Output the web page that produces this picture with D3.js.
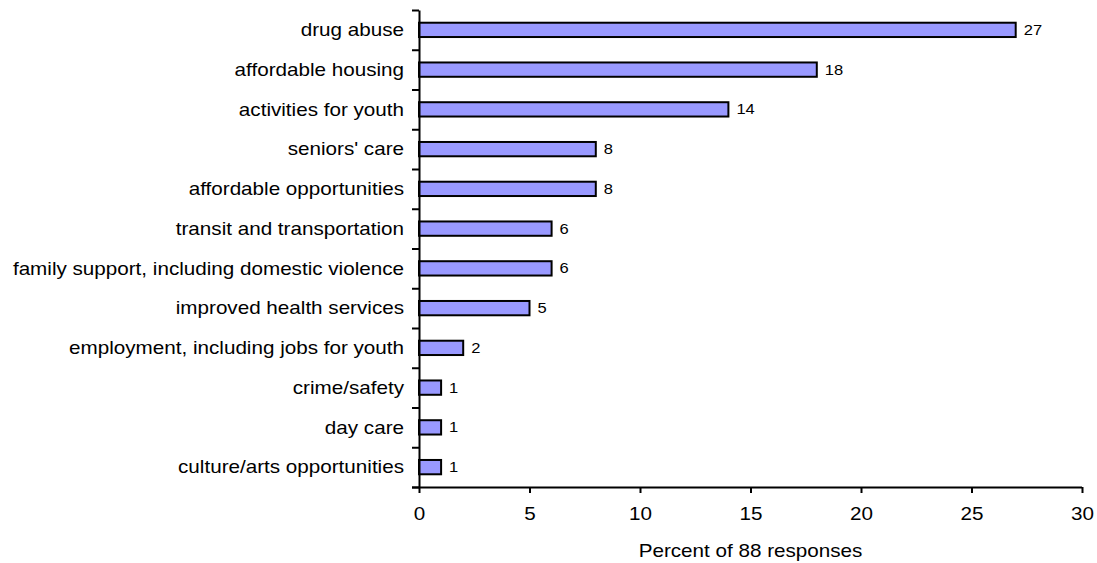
<!DOCTYPE html>
<html>
<head>
<meta charset="utf-8">
<script src="https://cdn.jsdelivr.net/npm/d3@7"></script>
<style>
  html, body { margin: 0; padding: 0; background: #fff; }
  svg { display: block; }
  text { font-family: "Liberation Sans", Arial, sans-serif; fill: #000; }
</style>
</head>
<body>
<svg id="chart" width="1097" height="563"></svg>
<script>
// Community priorities, percent of 88 responses
const categories = [
  "drug abuse",
  "affordable housing",
  "activities for youth",
  "seniors' care",
  "affordable opportunities",
  "transit and transportation",
  "family support, including domestic violence",
  "improved health services",
  "employment, including jobs for youth",
  "crime/safety",
  "day care",
  "culture/arts opportunities"
];
const percents = [27, 18, 14, 8, 8, 6, 6, 5, 2, 1, 1, 1];
const xTicks = [0, 5, 10, 15, 20, 25, 30];
const xTitle = "Percent of 88 responses";

const svg = d3.select("#chart");
const plotLeft = 419, plotRight = 1082, plotTop = 10, plotBottom = 487;
const stretch = 1.18; // wide letterforms
const fontSize = 17.5;

const x = d3.scaleLinear().domain([0, 30]).range([plotLeft, plotRight]);
const y = d3.scaleBand().domain(categories).range([plotTop, plotBottom])
  .paddingInner(0.64).paddingOuter(0.32);
// band boundaries for the y-axis tick marks
const yEdges = d3.scaleLinear().domain([0, categories.length]).range([plotTop, plotBottom]);

// bars
svg.append("g").selectAll("rect")
  .data(categories)
  .join("rect")
  .attr("x", x(0))
  .attr("y", d => y(d))
  .attr("width", (d, i) => x(percents[i]) - x(0))
  .attr("height", y.bandwidth())
  .attr("fill", "#9999ff")
  .attr("stroke", "#000")
  .attr("stroke-width", 2);

// value labels
svg.append("g").selectAll("text")
  .data(categories)
  .join("text")
  .attr("transform", (d, i) => `translate(${x(percents[i]) + 8},${y(d) + y.bandwidth() / 2}) scale(${stretch},1)`)
  .attr("dy", "0.35em")
  .attr("font-size", 14)
  .text((d, i) => percents[i]);

// y axis line and boundary ticks
const yAxisG = svg.append("g")
  .attr("transform", `translate(${plotLeft},0)`)
  .call(d3.axisLeft(yEdges)
    .tickValues(d3.range(0, categories.length + 1))
    .tickFormat("")
    .tickSize(7)
    .tickSizeOuter(0));
yAxisG.selectAll("path, line").attr("stroke", "#000").attr("stroke-width", 2);

// category labels
const yLabelG = svg.append("g")
  .attr("transform", `translate(${plotLeft},0)`)
  .call(d3.axisLeft(y).tickSize(0).tickPadding(15));
yLabelG.select(".domain").remove();
yLabelG.selectAll("text")
  .attr("font-family", "'Liberation Sans', Arial, sans-serif")
  .attr("font-size", fontSize)
  .attr("fill", "#000")
  .attr("x", -15 / stretch)
  .attr("dy", "0.35em")
  .attr("transform", `scale(${stretch},1)`);

// x axis
const xAxisG = svg.append("g")
  .attr("transform", `translate(0,${plotBottom})`)
  .call(d3.axisBottom(x).tickValues(xTicks).tickSize(6).tickPadding(15).tickSizeOuter(0));
xAxisG.selectAll("path, line").attr("stroke", "#000").attr("stroke-width", 2);
xAxisG.select(".domain").attr("d", `M${plotLeft - 7},0.5H${plotRight}`);
xAxisG.selectAll("text")
  .attr("font-family", "'Liberation Sans', Arial, sans-serif")
  .attr("font-size", fontSize)
  .attr("fill", "#000")
  .attr("transform", `scale(${stretch},1)`)
  .attr("x", 0)
  .attr("text-anchor", "middle");

// x axis title
svg.append("text")
  .attr("transform", `translate(${(plotLeft + plotRight) / 2},557) scale(${stretch},1)`)
  .attr("text-anchor", "middle")
  .attr("font-size", fontSize)
  .text(xTitle);
</script>
</body>
</html>
